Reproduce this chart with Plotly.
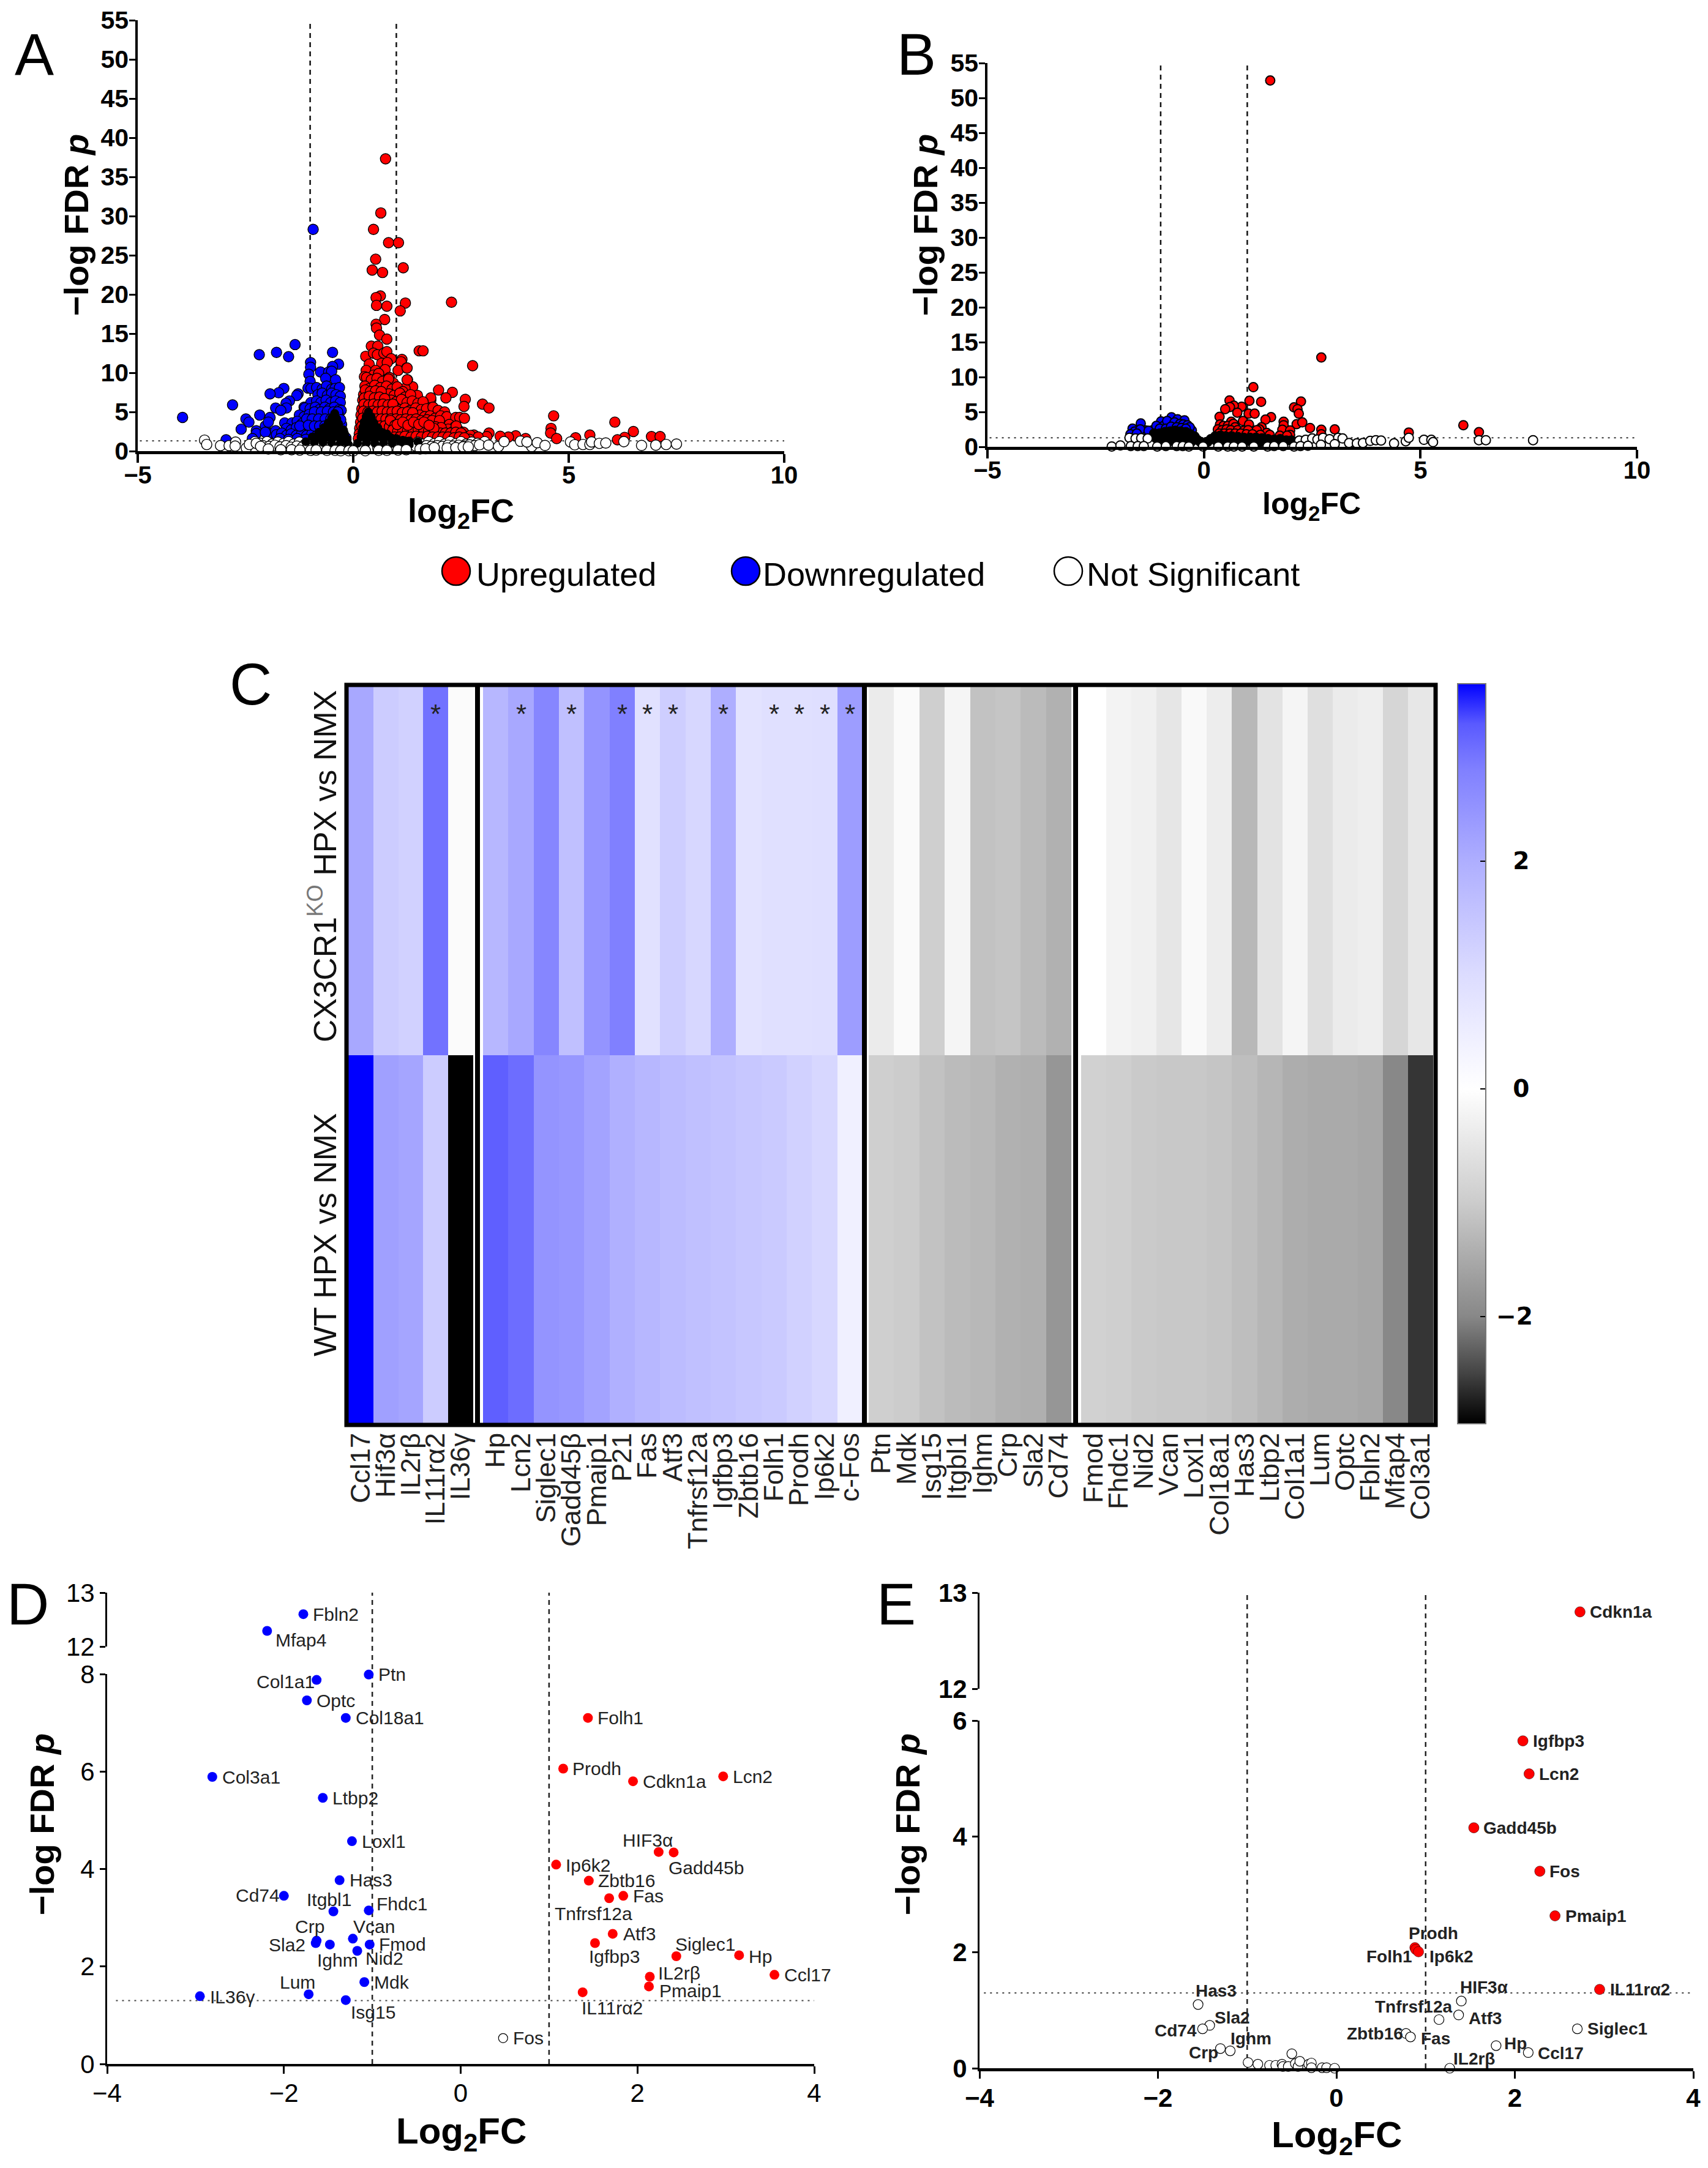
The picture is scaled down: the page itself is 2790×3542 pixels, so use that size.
"""
Volcano plots and heatmap panel (A-E) rebuilt with Plotly.
Values are read off the published figure.
"""
import plotly.graph_objects as go

W, H = 2790, 3542
FONT = "Liberation Sans"
BODY_MARGIN = 8  # the html page keeps the browser's default body margin

# ---- panel A, log2FC / -log FDR p pairs ----
a_up_top = [
    (.75, 37.3), (.64, 30.4), (.47, 28.3), (.82, 26.6), (1.05, 26.6), (.52, 24.5), (.44, 23.1), (.68, 22.8),
    (1.16, 23.4), (.63, 19.8), (.53, 19.6), (1.21, 18.9), (2.28, 19.0), (.54, 18.6), (.78, 18.5), (1.09, 17.9),
    (.73, 16.8), (.53, 16.2), (.54, 15.7), (.61, 14.8), (.78, 14.3), (1.53, 12.8), (1.62, 12.8), (2.77, 10.9),
    (1.13, 11.7), (1.11, 11.4), (1.24, 10.6), (1.04, 10.3), (1.26, 9.1), (1.38, 8.2), (1.98, 7.8), (2.3, 7.5),
    (1.48, 7.1), (2.15, 6.8), (1.8, 6.5), (2.6, 6.6), (2.57, 5.7), (3.0, 6.0), (3.15, 5.5), (4.65, 4.5),
    (6.07, 3.7), (4.59, 2.9), (4.58, 2.3), (4.72, 1.6), (6.5, 2.5), (6.3, 1.75), (6.13, 1.45), (6.92, 1.85),
    (7.12, 1.85), (5.49, 2.05), (5.16, 1.7), (3.77, 1.95), (3.6, 1.8), (3.41, 1.9), (3.15, 2.3), (3.1, 1.85),
    (2.8, 2.05), (4.0, 1.6), (.42, 13.4), (.57, 13.4), (.29, 12.1), (.47, 12.5), (.56, 12.3), (.71, 12.5),
    (.78, 12.7), (.88, 11.8), (.66, 11.2), (.79, 11.3), (.37, 11.1), (.3, 10.3), (.26, 9.5), (.74, 10.4),
    (.52, 10.3), (.47, 9.7), (.59, 9.9), (.73, 9.0), (.84, 9.4), (.93, 8.7), (1.04, 8.0), (1.2, 8.0),
    (1.25, 9.1), (1.49, 7.1), (1.8, 6.8), (1.25, 10.6),
]
a_up_cloud = [
    (.31, 9.4), (.42, 9.1), (.55, 9.3), (.68, 8.9), (.82, 9.2),
    (.27, 8.3), (.38, 8.0), (.5, 8.4), (.63, 8.1), (.77, 8.3), (.9, 7.9), (1.02, 8.2), (1.15, 7.6),
    (.24, 7.2), (.34, 7.5), (.46, 7.1), (.58, 7.4), (.7, 7.0), (.83, 7.3), (.95, 7.1), (1.08, 7.4), (1.2, 6.9), (1.33, 7.2),
    (.22, 6.5), (.31, 6.2), (.42, 6.6), (.53, 6.3), (.65, 6.5), (.76, 6.2), (.88, 6.5), (1.0, 6.3), (1.12, 6.6),
    (1.25, 6.2), (1.37, 6.4), (1.5, 6.1), (1.62, 6.3),
    (.2, 5.4), (.3, 5.7), (.4, 5.3), (.51, 5.6), (.62, 5.4), (.74, 5.6), (.85, 5.3), (.97, 5.6), (1.09, 5.3),
    (1.2, 5.5), (1.32, 5.2), (1.45, 5.5), (1.58, 5.3), (1.7, 5.4), (1.85, 5.6), (1.97, 5.2), (2.12, 5.0),
    (.18, 4.6), (.28, 4.4), (.38, 4.8), (.49, 4.5), (.6, 4.7), (.71, 4.4), (.82, 4.7), (.94, 4.5), (1.05, 4.7),
    (1.17, 4.4), (1.29, 4.6), (1.41, 4.3), (1.54, 4.6), (1.66, 4.4), (1.78, 4.5), (1.9, 4.2), (2.03, 4.5),
    (2.17, 4.4), (2.38, 4.3), (2.47, 4.3), (2.58, 4.2),
    (.17, 3.7), (.26, 3.4), (.35, 3.8), (.46, 3.5), (.56, 3.7), (.67, 3.4), (.78, 3.7), (.9, 3.5), (1.01, 3.7),
    (1.13, 3.4), (1.25, 3.6), (1.37, 3.4), (1.49, 3.7), (1.61, 3.4), (1.73, 3.6), (1.85, 3.3), (1.97, 3.5),
    (2.1, 3.2), (2.23, 3.4), (2.36, 3.1),
    (.15, 2.9), (.25, 2.6), (.34, 3.0), (.44, 2.7), (.55, 2.9), (.66, 2.6), (.77, 2.9), (.88, 2.6), (1.0, 2.9),
    (1.12, 2.7), (1.24, 2.9), (1.36, 2.6), (1.48, 2.9), (1.6, 2.6), (1.72, 2.8), (1.84, 2.6), (1.96, 2.8),
    (2.08, 2.5), (2.2, 2.8), (2.32, 2.5), (2.44, 2.7), (2.56, 2.4), (2.39, 3.2),
    (.14, 2.2), (.24, 2.0), (.35, 2.3), (.46, 2.0), (.57, 2.2), (.68, 2.0), (.8, 2.3), (.92, 2.0), (1.04, 2.2),
    (1.16, 2.0), (1.28, 2.2), (1.4, 2.0), (1.52, 2.2), (1.64, 2.0), (1.76, 2.2), (1.88, 1.9), (2.0, 2.1),
    (2.12, 1.9), (2.24, 2.1), (2.36, 1.9), (2.48, 2.1), (2.6, 1.9), (2.72, 2.0), (2.9, 1.8),
    (.12, 1.6), (.3, 1.5), (.5, 1.6), (.7, 1.5), (.9, 1.6), (1.1, 1.5), (1.3, 1.6), (1.5, 1.5), (1.7, 1.6),
    (1.9, 1.5), (2.1, 1.6), (2.3, 1.5), (2.5, 1.6), (2.7, 1.5),
    (.28, 7.8), (.4, 7.6), (.52, 7.7), (.65, 7.6), (.26, 6.8), (.37, 7.0), (.49, 6.8), (.61, 6.9), (.73, 6.7),
    (.25, 6.0), (.36, 5.9), (.47, 6.0), (.58, 5.9), (.69, 6.0), (.81, 5.9), (.92, 6.0), (.24, 5.1), (.34, 5.0),
    (.45, 5.1), (.56, 5.0), (.67, 5.1), (.79, 5.0), (.9, 5.0), (1.02, 5.1), (1.14, 4.9), (1.26, 5.0), (1.38, 4.9),
    (.22, 4.2), (.33, 4.1), (.43, 4.2), (.54, 4.1), (.65, 4.1), (.76, 4.1), (.87, 4.1), (.99, 4.1), (1.1, 4.0),
    (1.22, 4.1), (1.34, 4.0), (1.46, 4.1), (1.58, 3.9), (1.71, 4.0), (1.83, 3.9), (2.0, 3.9),
    (.2, 3.2), (.3, 3.2), (.41, 3.2), (.51, 3.2), (.62, 3.2), (.73, 3.2), (.84, 3.1), (.95, 3.2), (1.07, 3.1),
    (1.19, 3.2), (1.31, 3.1), (1.43, 3.2), (1.55, 3.0), (1.67, 3.1), (1.79, 3.0), (1.91, 3.1), (2.04, 3.0),
    (.86, 3.9), (.97, 3.3), (1.08, 2.4), (1.18, 3.0), (1.3, 2.4), (1.42, 2.4), (1.54, 2.4), (1.66, 2.3), (1.78, 2.4),
    (1.9, 2.4), (2.02, 2.3), (2.14, 2.3), (2.26, 2.3), (2.38, 2.4), (2.5, 2.3), (.92, 2.7), (1.03, 2.5), (1.15, 2.5),
    (1.26, 2.6), (1.39, 2.8), (1.51, 2.7), (1.63, 2.9), (1.75, 2.6), (1.87, 2.9), (.96, 1.8), (1.08, 1.8), (1.2, 1.9),
    (1.34, 1.8), (1.46, 1.9), (1.58, 1.8), (1.72, 1.9), (1.84, 1.8), (1.96, 1.8), (2.08, 1.8), (2.2, 1.8), (2.34, 1.7),
    (2.46, 1.8), (2.58, 1.7), (1.02, 3.4), (1.15, 3.7), (1.27, 3.3), (1.4, 3.7), (1.52, 3.4), (1.64, 3.7), (1.76, 3.3),
]
a_down_top = [
    (-3.96, 4.3), (-2.8, 5.9), (-2.18, 12.3), (-1.78, 12.6), (-1.5, 12.05), (-1.35, 13.6), (-.48, 12.6), (-.93, 28.3),
    (-.99, 11.3), (-.99, 10.7), (-.34, 11.1), (-.48, 10.8), (-1.03, 9.8), (-.76, 10.1), (-.57, 10.1), (-.5, 10.2),
    (-.64, 9.3), (-.41, 9.1), (-1.0, 8.9), (-1.05, 8.05), (-.98, 8.0), (-1.61, 8.0), (-1.73, 7.45), (-1.93, 7.3),
    (-1.28, 7.3), (-1.31, 7.1), (-1.48, 6.4), (-1.56, 6.1), (-1.8, 5.5), (-1.55, 5.5), (-1.68, 5.2), (-2.17, 4.6),
    (-1.93, 4.3), (-2.49, 4.1), (-2.42, 3.7), (-2.6, 2.8), (-2.04, 3.2), (-1.97, 3.7), (-2.25, 2.6), (-2.25, 2.25),
    (-2.34, 1.6), (-2.95, 1.45), (-1.14, 5.6), (-.99, 6.1), (-1.59, 3.6), (-1.89, 2.3), (-2.04, 2.4), (-1.8, 2.6),
]
a_down_cloud = [
    (-.85, 8.1), (-.72, 7.9), (-.62, 8.3), (-.5, 7.9), (-.42, 8.0), (-.32, 8.1),
    (-.82, 7.2), (-.72, 7.4), (-.6, 7.1), (-.5, 7.4), (-.4, 7.2), (-.3, 7.0),
    (-.98, 6.2), (-.85, 6.4), (-.75, 6.2), (-.63, 6.5), (-.52, 6.2), (-.41, 6.4), (-.3, 6.2),
    (-1.12, 5.5), (-1.0, 5.4), (-.88, 5.6), (-.78, 5.3), (-.66, 5.6), (-.55, 5.4), (-.44, 5.6), (-.32, 5.3), (-.28, 5.2),
    (-1.25, 4.6), (-1.14, 4.4), (-1.02, 4.7), (-.9, 4.4), (-.8, 4.7), (-.68, 4.5), (-.57, 4.7), (-.45, 4.4), (-.34, 4.6),
    (-1.42, 3.6), (-1.3, 3.8), (-1.19, 3.5), (-1.07, 3.8), (-.96, 3.5), (-.84, 3.8), (-.72, 3.6), (-.6, 3.7),
    (-.48, 3.5), (-.36, 3.6), (-.27, 3.4),
    (-1.55, 2.9), (-1.44, 2.7), (-1.32, 3.0), (-1.2, 2.7), (-1.1, 3.0), (-.98, 2.8), (-.86, 3.0), (-.74, 2.7),
    (-.62, 2.9), (-.5, 2.7), (-.38, 2.9), (-.25, 2.6),
    (-1.78, 2.1), (-1.66, 2.3), (-1.55, 2.0), (-1.44, 2.2), (-1.32, 2.0), (-1.2, 2.2), (-1.08, 2.0), (-.96, 2.2),
    (-.84, 2.0), (-.72, 2.1), (-.6, 2.0), (-.48, 2.1), (-.36, 2.0), (-.24, 2.0), (-.17, 1.7),
    (-1.7, 1.6), (-1.5, 1.5), (-1.3, 1.6), (-1.1, 1.5), (-.9, 1.6), (-.7, 1.5), (-.5, 1.6), (-.3, 1.5),
    (-.9, 5.0), (-.74, 5.0), (-.6, 5.1), (-.46, 5.0), (-.36, 5.0), (-1.08, 4.1), (-.95, 4.1), (-.8, 4.1), (-.65, 4.1),
    (-.52, 4.1), (-.4, 4.0), (-.29, 4.0), (-1.24, 3.2), (-1.04, 3.3), (-.9, 3.2), (-.78, 3.2), (-.66, 3.2), (-.54, 3.2),
]
a_core = [
    (.35, 5.0), (.3, 4.4), (.42, 4.3), (.25, 3.7), (.36, 3.7), (.48, 3.6), (.22, 3.0), (.33, 3.0), (.45, 3.0),
    (.57, 3.0), (.2, 2.4), (.3, 2.3), (.42, 2.4), (.54, 2.3), (.66, 2.4), (.78, 2.2), (.18, 1.8), (.28, 1.8),
    (.4, 1.8), (.52, 1.8), (.64, 1.8), (.76, 1.8), (.88, 1.7), (1.0, 1.6), (1.15, 1.4), (1.3, 1.3), (1.5, 1.2),
    (-.43, 4.8), (-.5, 4.2), (-.38, 4.1), (-.58, 3.6), (-.46, 3.5), (-.34, 3.5), (-.68, 3.0), (-.56, 2.9),
    (-.44, 2.9), (-.32, 2.9), (-.24, 2.7), (-.8, 2.4), (-.68, 2.4), (-.56, 2.3), (-.44, 2.3), (-.32, 2.3),
    (-.2, 2.2), (-.95, 1.8), (-.82, 1.8), (-.7, 1.8), (-.58, 1.8), (-.46, 1.8), (-.34, 1.8), (-.22, 1.7), (-.14, 1.5),
    (-1.1, 1.2), (-.9, 1.1), (-.7, 1.1), (-.5, 1.0), (-.3, 1.0), (-.12, .9), (.1, 1.0), (.3, 1.0), (.5, 1.0),
    (.7, 1.0), (.9, 1.0), (1.1, .9), (1.3, .8),
]
a_ns_band = [
    (-2.28, 1.2), (-2.15, 1.0), (-2.0, 1.2), (-1.88, .9), (-1.75, 1.15), (-1.62, .95), (-1.5, 1.2), (-1.38, .9),
    (-1.25, 1.15), (-1.12, .85), (-1.0, 1.1), (-.88, .8), (-.75, 1.05), (-.62, .75), (-.5, 1.0), (-.38, .7),
    (-.25, .8), (-.12, .6), (.12, .6), (.25, .8), (.38, .7), (.5, .9), (.62, .7), (.75, 1.0), (.88, .75), (1.0, 1.05),
    (1.12, .8), (1.25, 1.1), (1.38, .85), (1.5, 1.15), (1.62, .9), (1.75, 1.2), (1.88, .95), (2.0, 1.2), (2.12, .9),
    (2.25, 1.2), (2.38, .95), (2.5, 1.2), (2.62, .9), (2.75, 1.15), (2.88, 1.0), (3.05, 1.2),
    (-2.1, .7), (-1.95, .6), (-1.82, .75), (-1.7, .55), (-1.56, .7), (-1.44, .5), (-1.31, .65), (-1.18, .5),
    (-1.05, .6), (-.93, .45), (-.8, .55), (-.68, .4), (-.56, .5), (-.44, .4), (-.31, .4), (-.18, .35), (.18, .35),
    (.31, .4), (.44, .45), (.57, .4), (.7, .5), (.82, .4), (.95, .55), (1.08, .45), (1.2, .6), (1.33, .5), (1.45, .65),
    (1.57, .55), (1.7, .7), (1.82, .6), (1.95, .7), (2.07, .6), (2.2, .75), (2.32, .65), (2.45, .75), (2.57, .65),
    (2.7, .8), (2.82, .7),
]
a_ns_base = [
    (-3.45, 1.4), (-3.4, .85), (-3.08, .7), (-2.88, .7), (-2.73, 1.15), (-2.74, .65), (-2.48, .4), (-2.41, .85),
    (-2.25, 1.0), (-2.15, .6), (-1.97, .27), (-1.68, .18), (-1.43, .18), (-1.24, .13), (-.99, .09), (-.86, .13),
    (-.61, .09), (-.42, .09), (-.29, .05), (-.1, .05), (0, .03), (.28, .05), (.59, .09), (.78, .09), (1.04, .13),
    (1.23, .18), (1.55, .27), (1.68, .31), (1.88, .45), (2.18, .4), (2.38, .45), (2.55, .54), (2.67, .54), (2.93, .81),
    (3.14, .76), (3.37, .58), (3.5, 1.21), (3.88, 1.26), (4.14, .58), (4.03, 1.17), (4.27, 1.08), (4.45, .72),
    (5.04, 1.17), (5.14, .81), (5.33, .85), (5.49, .85), (5.53, 1.17), (5.71, .99), (5.86, 1.03), (6.28, 1.21),
    (6.69, .72), (7.02, .76), (7.26, .85), (7.5, .9),
]

# ---- panel B ----
b_up = [
    (1.53, 52.5), (2.71, 12.8), (1.14, 8.55), (.59, 6.65), (1.05, 6.6), (1.32, 6.45), (2.24, 6.5), (2.08, 5.65),
    (2.16, 5.4), (2.19, 4.75), (.87, 5.75), (.69, 5.9), (.6, 5.7), (.49, 5.4), (.77, 4.9), (1.03, 4.75), (1.17, 4.75),
    (.36, 4.3), (1.55, 4.25), (1.42, 3.9), (.9, 3.7), (1.04, 3.2), (.63, 3.6), (1.84, 3.6), (1.84, 3.1), (2.14, 3.25),
    (2.27, 3.5), (2.45, 2.7), (2.71, 2.45), (3.02, 2.5), (1.81, 2.45), (1.99, 2.35), (1.99, 1.7), (2.71, 1.8),
    (4.73, 2.05), (5.99, 3.1), (6.35, 2.1), (1.33, 2.8), (1.28, 2.5), (1.17, 2.3), (1.45, 2.0), (1.22, 2.4),
    (.37, 3.2), (.45, 3.0), (.55, 3.0), (.68, 3.3), (.72, 2.8), (.32, 2.5), (.42, 2.4), (.52, 2.5), (.62, 2.4),
    (.78, 2.4), (.92, 2.3), (1.02, 2.4), (.35, 1.9), (.47, 1.9), (.6, 1.9), (.72, 1.9), (.85, 1.9), (.98, 1.8),
    (1.12, 1.8), (1.3, 1.7), (1.52, 1.7), (1.75, 1.6), (1.92, 1.6),
]
b_down = [
    (-1.46, 3.36), (-1.65, 2.6), (-1.35, 2.35), (-1.18, 2.4), (-.99, 3.65), (-.75, 4.24), (-.61, 3.95), (-.45, 3.8),
    (-.28, 2.35), (-1.6, 2.2), (-1.47, 2.5), (-1.28, 2.3), (-1.1, 3.0), (-.93, 3.0), (-.85, 3.7), (-.68, 3.5),
    (-.55, 3.3), (-.48, 3.2), (-.38, 3.1), (-.33, 2.8), (-1.02, 2.6), (-.88, 2.6), (-.76, 2.9), (-.63, 2.8),
    (-.52, 2.7), (-.42, 2.6), (-1.7, 1.8), (-1.55, 1.9),
]
b_core = [
    (-1.15, 1.9), (-1.02, 1.9), (-.9, 2.1), (-.78, 2.2), (-.66, 2.3), (-.54, 2.2), (-.42, 2.1), (-.32, 1.8), (-.22, 1.5),
    (-1.1, 1.2), (-.96, 1.3), (-.82, 1.4), (-.68, 1.5), (-.54, 1.5), (-.4, 1.3), (-.28, 1.2), (-.16, 1.0), (-.08, .7),
    (-.9, .8), (-.7, .8), (-.5, .8), (-.3, .7), (.08, .7), (.16, 1.1), (.26, 1.5), (.38, 1.6), (.5, 1.5), (.64, 1.5),
    (.78, 1.4), (.92, 1.3), (1.06, 1.3), (1.2, 1.3), (1.34, 1.2), (1.48, 1.1), (1.62, 1.0), (1.76, 1.1), (1.9, .9),
    (2.02, .9), (.3, .8), (.5, .8), (.7, .8), (.9, .7), (1.1, .7), (1.3, .7), (1.5, .6),
]
b_ns = [
    (-1.72, 1.3), (-1.58, 1.2), (-1.45, 1.25), (-1.3, 1.2), (2.2, .9), (2.35, 1.0), (2.5, 1.2), (2.62, 1.05),
    (2.75, 1.3), (2.9, 1.1), (3.1, 1.3), (3.2, 1.2), (-2.13, .05), (-1.93, .2), (-1.69, .1), (-1.53, .1), (-1.39, .1),
    (-1.08, .05), (-.88, .1), (-.63, .1), (-.49, .1), (-.35, .05), (-.02, .05), (.33, .05), (.55, .05), (.69, .05),
    (.88, .05), (1.15, .05), (1.47, .05), (1.62, .1), (1.83, .1), (2.08, .05), (2.23, .1), (2.4, .15), (2.7, .3),
    (3.02, .4), (3.35, .55), (3.53, .5), (3.67, .55), (3.84, .85), (3.97, .95), (4.09, .9), (4.39, .5), (4.66, .8),
    (4.73, 1.3), (5.08, 1.0), (5.25, 1.0), (5.29, .67), (6.35, .95), (6.51, .95), (7.6, .95),
]

# ---- panel C ----
genes_1 = ["Ccl17", "Hif3α", "IL2rβ", "IL11rα2", "IL36γ"]
genes_2 = ["Hp", "Lcn2", "Siglec1", "Gadd45β", "Pmaip1", "P21", "Fas", "Atf3", "Tnfrsf12a", "Igfbp3", "Zbtb16",
           "Folh1", "Prodh", "Ip6k2", "c-Fos"]
genes_3 = ["Ptn", "Mdk", "Isg15", "Itgbl1", "Ighm", "Crp", "Sla2", "Cd74"]
genes_4 = ["Fmod", "Fhdc1", "Nid2", "Vcan", "Loxl1", "Col18a1", "Has3", "Ltbp2", "Col1a1", "Lum", "Optc", "Fbln2",
           "Mfap4", "Col3a1"]
row_labels = ['WT HPX vs NMX', 'CX3CR1<sup><span style="color:#777">KO</span></sup> HPX vs NMX']
ko_1 = [2.1, 1.35, 1.25, 2.95, -.08]
wt_1 = [3.56, 2.25, 2.15, 1.35, -2.94]
ko_2 = [1.8, 2.1, 2.7, 1.6, 2.45, 2.8, .85, 1.3, 1.1, 2.0, .8, .9, .9, .92, 2.3]
wt_2 = [3.15, 3.0, 2.45, 2.4, 2.2, 1.95, 1.8, 1.7, 1.6, 1.55, 1.45, 1.4, 1.25, 1.1, .43]
ko_3 = [-.4, -.1, -.95, -.2, -1.15, -1.1, -1.25, -1.4]
wt_3 = [-.95, -1.0, -1.15, -1.25, -1.3, -1.4, -1.42, -1.8]
ko_4 = [0, -.24, -.3, -.5, -.12, -.35, -1.3, -.55, -.2, -.62, -.4, -.33, -.8, -.48]
wt_4 = [-.9, -.95, -1.03, -1.06, -1.06, -1.1, -1.2, -1.33, -1.45, -1.5, -1.5, -1.55, -2.0, -2.6]
starred = ["IL11rα2", "Lcn2", "Gadd45β", "P21", "Fas", "Atf3", "Igfbp3", "Folh1", "Prodh", "Ip6k2", "c-Fos"]
cbar_stops = [(-2.94, "#000000"), (-2.5, "#444444"), (-2, "#888888"), (-1, "#cccccc"), (0, "#ffffff"),
              (1, "#dcdcff"), (2, "#aeaeff"), (2.8, "#8080ff"), (3.2, "#5a5aff"), (3.56, "#0000ff")]

# ---- panel D ----
d_low_names = ["Ptn", "Col1a1", "Optc", "Col18a1", "Col3a1", "Ltbp2", "Loxl1", "Has3", "Cd74",
               "Itgbl1", "Fhdc1", "Crp", "Sla2", "Vcan", "Fmod", "Ighm", "Nid2", "Lum", "Mdk", "IL36γ", "Isg15"]
d_low_x = [-1.04, -1.63, -1.74, -1.30, -2.81, -1.56, -1.23, -1.37, -2.0,
           -1.44, -1.04, -1.63, -1.64, -1.22, -1.03, -1.48, -1.17, -1.72, -1.09, -2.95, -1.30]
d_low_y = [7.99, 7.88, 7.46, 7.10, 5.89, 5.46, 4.57, 3.77, 3.45,
           3.13, 3.15, 2.53, 2.48, 2.57, 2.45, 2.45, 2.32, 1.43, 1.68, 1.39, 1.31]
d_high_names = ["Fbln2", "Mfap4"]
d_high_x = [-1.78, -2.19]
d_high_y = [12.6, 12.29]
d_up_names = ["Folh1", "Prodh", "Cdkn1a", "Lcn2", "HIF3α", "Gadd45b", "Ip6k2", "Zbtb16", "Fas", "Tnfrsf12a", "Atf3",
              "Igfbp3", "Siglec1", "Hp", "IL2rβ", "Pmaip1", "Ccl17", "IL11rα2"]
d_up_x = [1.44, 1.16, 1.95, 2.97, 2.24, 2.41, 1.08, 1.45, 1.84, 1.68, 1.72, 1.52, 2.44, 3.15, 2.14, 2.13, 3.55, 1.38]
d_up_y = [7.10, 6.06, 5.80, 5.90, 4.35, 4.34, 4.09, 3.76, 3.45, 3.40, 2.67, 2.48, 2.21, 2.23, 1.79, 1.59, 1.83, 1.47]
d_ns_names = ["Fos"]
d_ns_x = [.48]
d_ns_y = [.53]
# label offset from its point, pixels
d_offsets = {
    "Fbln2": (13, 0), "Mfap4": (12, -15), "Ptn": (14, 0), "Col1a1": (-100, -3), "Optc": (14, 0), "Col18a1": (14, 0),
    "Col3a1": (14, 0), "Ltbp2": (14, 0), "Loxl1": (14, 0), "Has3": (14, 0), "Cd74": (-81, 1), "Itgbl1": (-46, 19),
    "Fhdc1": (11, 11), "Crp": (-37, 23), "Sla2": (-79, -3), "Vcan": (-1, 20), "Fmod": (13, 0), "Ighm": (-23, -26),
    "Nid2": (11, -12), "Lum": (-49, 20), "Mdk": (14, 0), "IL36γ": (14, -1), "Isg15": (6, -20), "Fos": (14, 0),
    "Folh1": (14, 0), "Prodh": (13, 0), "Cdkn1a": (14, 0), "Lcn2": (14, 0), "HIF3α": (-61, 19), "Gadd45b": (-10, -25),
    "Ip6k2": (14, -1), "Zbtb16": (13, 0), "Fas": (14, 0), "Tnfrsf12a": (-91, -25), "Atf3": (15, 0), "Igfbp3": (-12, -22),
    "Siglec1": (-4, 20), "Hp": (14, -2), "IL2rβ": (12, 6), "Pmaip1": (15, -7), "Ccl17": (14, 0), "IL11rα2": (-4, -26),
}

# ---- panel E ----
e_high_names = ["Cdkn1a"]
e_high_x = [2.73]
e_high_y = [12.8]
e_up_names = ["Igfbp3", "Lcn2", "Gadd45b", "Fos", "Pmaip1", "Prodh", "Folh1", "Ip6k2", "IL11rα2"]
e_up_x = [2.09, 2.16, 1.54, 2.28, 2.45, .88, .89, .92, 2.95]
e_up_y = [5.65, 5.08, 4.15, 3.40, 2.63, 2.08, 2.05, 2.01, 1.36]
e_ns_names = ["Has3", "Sla2", "Cd74", "Ighm", "Crp", "HIF3α", "Atf3", "Tnfrsf12a", "Zbtb16", "Fas", "Siglec1", "Hp",
              "Ccl17", "IL2rβ"]
e_ns_x = [-1.55, -1.42, -1.50, -1.19, -1.30, 1.40, 1.37, 1.15, .78, .83, 2.70, 1.79, 2.15, 1.27]
e_ns_y = [1.10, .74, .68, .30, .34, 1.16, .92, .84, .60, .54, .68, .39, .27, 0]
e_rest_x = [-.99, -.88, -.75, -.68, -.61, -.6, -.54, -.5, -.46, -.43, -.41, -.31, -.28, -.28, -.16, -.11, -.02]
e_rest_y = [.10, .07, .05, .05, .07, .03, .03, .25, .08, .03, .12, .07, .09, .01, .01, .01, 0]
e_offsets = {
    "Cdkn1a": (14, 0), "Igfbp3": (14, 0), "Lcn2": (14, 0), "Gadd45b": (14, 0), "Fos": (14, 0), "Pmaip1": (15, 0),
    "Prodh": (-12, 24), "Folh1": (-83, -12), "Ip6k2": (16, -8), "IL11rα2": (15, 0), "Has3": (-6, 22), "Sla2": (6, 12),
    "Cd74": (-80, -3), "Ighm": (-2, 20), "Crp": (-54, -7), "HIF3α": (-4, 23), "Atf3": (14, -6), "Tnfrsf12a": (-107, 21),
    "Zbtb16": (-99, 0), "Fas": (15, -3), "Siglec1": (14, 0), "Hp": (11, 4), "Ccl17": (14, -1), "IL2rβ": (4, 16),
}

legend_items = [("Upregulated", "#ff0000", 745, 776), ("Downregulated", "#0000ff", 1218, 1244),
                ("Not Significant", "#ffffff", 1745, 1773)]


def px(x):
    return (x - BODY_MARGIN) / W


def py(y):
    return 1 - (y - BODY_MARGIN) / H


def split(pairs):
    return [p[0] for p in pairs], [p[1] for p in pairs]


def dots(x, y, color, size, xaxis, yaxis, line=1.4, name=None):
    return go.Scatter(x=x, y=y, mode="markers", name=name, showlegend=False, cliponaxis=False,
                      marker=dict(color=color, size=size, line=dict(color="black", width=line)),
                      xaxis=xaxis, yaxis=yaxis)


def axis(domain, ticksize=40, weight="bold", **kw):
    return dict(domain=domain, showgrid=False, zeroline=False, showline=True, linecolor="black",
                ticks="outside", tickcolor="black",
                tickfont=dict(family=FONT, size=ticksize, color="black", weight=weight), **kw)


fig = go.Figure()

# panel A
for pts, col, size, name in [(a_up_top, "#ff0000", 17, "Upregulated"), (a_up_cloud, "#ff0000", 17, "Upregulated"),
                             (a_down_top, "#0000ff", 17, "Downregulated"), (a_down_cloud, "#0000ff", 17, "Downregulated"),
                             (a_ns_band, "#ffffff", 17, "Not Significant"), (a_core, "#000000", 13, "Not Significant"),
                             (a_ns_base, "#ffffff", 17, "Not Significant")]:
    xs, ys = split(pts)
    fig.add_trace(dots(xs, ys, col, size, "x", "y", name=name))

# panel B
for pts, col, name in [(b_up, "#ff0000", "Upregulated"), (b_down, "#0000ff", "Downregulated"),
                       (b_core, "#000000", "Not Significant"), (b_ns, "#ffffff", "Not Significant")]:
    xs, ys = split(pts)
    fig.add_trace(dots(xs, ys, col, 15, "x2", "y2", line=2, name=name))

# panel C, one heatmap per gene block
for genes, ko, wt, xa in [(genes_1, ko_1, wt_1, "x3"), (genes_2, ko_2, wt_2, "x4"),
                          (genes_3, ko_3, wt_3, "x5"), (genes_4, ko_4, wt_4, "x6")]:
    fig.add_trace(go.Heatmap(x=genes, y=row_labels, z=[wt, ko], coloraxis="coloraxis", xaxis=xa, yaxis="y3"))

# panel D, lower and upper part of the broken axis
fig.add_trace(dots(d_low_x, d_low_y, "#0000ff", 16, "x7", "y7", line=0))
fig.add_trace(dots(d_high_x, d_high_y, "#0000ff", 16, "x7", "y8", line=0))
fig.add_trace(dots(d_up_x, d_up_y, "#ff0000", 16, "x7", "y7", line=0))
fig.add_trace(dots(d_ns_x, d_ns_y, "#ffffff", 15, "x7", "y7", line=1.2))

# panel E
fig.add_trace(dots(e_up_x, e_up_y, "#ff0000", 17, "x8", "y9", line=0.5))
fig.add_trace(dots(e_high_x, e_high_y, "#ff0000", 17, "x8", "y10", line=0.5))
fig.add_trace(dots(e_ns_x, e_ns_y, "#ffffff", 16, "x8", "y9", line=1.2))
fig.add_trace(dots(e_rest_x, e_rest_y, "#ffffff", 16, "x8", "y9", line=1.2))


def gene_axis(left, right, genes):
    return dict(domain=[px(left), px(right)], showgrid=False, zeroline=False, showline=False, ticks="", anchor="y3",
                tickmode="array", tickvals=genes, ticktext=genes, tickangle=-90, ticklabelstandoff=5,
                tickfont=dict(family=FONT, size=45, color="#222222"))


span = 3.56 + 2.94

fig.update_layout(
    width=W, height=H, margin=dict(l=0, r=0, t=0, b=0, autoexpand=False), paper_bgcolor="white", plot_bgcolor="white",
    showlegend=False, font=dict(family=FONT, color="black"),
    xaxis=axis([px(225), px(1281)], range=[-5, 10], tickvals=[-5, 0, 5, 10], anchor="y",
               linewidth=5, ticklen=14, tickwidth=4, ticklabelstandoff=-14),
    yaxis=axis([py(737), py(33)], ticksize=41, range=[0, 55], dtick=5, anchor="x",
               linewidth=3.5, ticklen=10, tickwidth=3, ticklabelstandoff=-7),
    xaxis2=axis([px(1613), px(2674)], range=[-5, 10], tickvals=[-5, 0, 5, 10], anchor="y2",
                linewidth=5, ticklen=14, tickwidth=4, ticklabelstandoff=-15),
    yaxis2=axis([py(730), py(103)], ticksize=41, range=[0, 55], dtick=5, anchor="x2",
                linewidth=3.5, ticklen=10, tickwidth=3, ticklabelstandoff=-7),
    xaxis3=gene_axis(569, 773, genes_1),
    xaxis4=gene_axis(789, 1409, genes_2),
    xaxis5=gene_axis(1419, 1750, genes_3),
    xaxis6=gene_axis(1766, 2341, genes_4),
    yaxis3=dict(domain=[py(2326), py(1122)], anchor="x3", showgrid=False, zeroline=False, ticks="", tickangle=-90,
                ticklabelstandoff=9, tickfont=dict(family=FONT, size=52, color="#111111")),
    coloraxis=dict(cmin=-2.94, cmax=3.56,
                   colorscale=[[(v + 2.94) / span, c] for v, c in cbar_stops],
                   colorbar=dict(x=px(2381), xanchor="left", y=py(1721), yanchor="middle", lenmode="pixels", len=1209,
                                 thicknessmode="pixels", thickness=46, outlinecolor="#777777", outlinewidth=2,
                                 tickvals=[-2, 0, 2], ticktext=["\u2009−2", "\u2009\u20070", "\u2009\u20072"],
                                 ticks="inside", ticklen=10, tickwidth=2, tickcolor="black", xpad=0, ypad=0,
                                 tickfont=dict(family="DejaVu Sans", size=39, color="black", weight="bold"))),
    xaxis7=axis([px(175), px(1330)], ticksize=42, weight="normal", range=[-4, 4], dtick=2,
                anchor="y7", linewidth=4, ticklen=12, tickwidth=3, ticklabelstandoff=-4),
    yaxis7=axis([py(3372), py(2735)], ticksize=42, weight="normal", range=[0, 8], dtick=2,
                anchor="x7", linewidth=3, ticklen=9, tickwidth=3),
    yaxis8=axis([py(2690), py(2602)], ticksize=42, weight="normal", range=[12, 13], dtick=1,
                anchor="x7", linewidth=3, ticklen=9, tickwidth=3),
    xaxis8=axis([px(1600), px(2766)], ticksize=42, range=[-4, 4], dtick=2,
                anchor="y9", linewidth=5, ticklen=12, tickwidth=3, ticklabelstandoff=-4),
    yaxis9=axis([py(3379), py(2811)], ticksize=42, range=[0, 6], dtick=2,
                anchor="x8", linewidth=3, ticklen=9, tickwidth=3),
    yaxis10=axis([py(2759), py(2602)], ticksize=42, range=[12, 13], dtick=1,
                 anchor="x8", linewidth=3, ticklen=9, tickwidth=3),
)

shapes = []
# threshold lines of the volcano plots
for xr, yr in [("x", "y"), ("x2", "y2")]:
    for v in (-1, 1):
        shapes.append(dict(type="line", xref=xr, yref=yr, x0=v, x1=v, y0=0, y1=55, layer="below",
                           line=dict(color="#111111", width=2.5, dash="8px,7px")))
    shapes.append(dict(type="line", xref=xr, yref=yr, x0=-4.95, x1=10, y0=1.3, y1=1.3, layer="below",
                       line=dict(color="#333333", width=2, dash="3px,7px")))
for xr, yr, bottom_px, x_lo in [("x7", "y7", 3372, -3.9), ("x8", "y9", 3379, -3.95)]:
    for v in (-1, 1):
        shapes.append(dict(type="line", xref=xr, yref="paper", x0=v, x1=v, y0=py(bottom_px), y1=py(2602),
                           layer="below", line=dict(color="#222222", width=2.5, dash="8px,7px")))
    shapes.append(dict(type="line", xref=xr, yref=yr, x0=x_lo, x1=4, y0=1.3, y1=1.3, layer="below",
                       line=dict(color="#444444", width=2, dash="3px,7px")))
# heatmap frame and block separators
shapes.append(dict(type="rect", xref="paper", yref="paper", x0=px(566), x1=px(2345), y0=py(2328), y1=py(1119),
                   line=dict(color="black", width=7)))
for sep in (780, 1412, 1757):
    shapes.append(dict(type="line", xref="paper", yref="paper", x0=px(sep), x1=px(sep), y0=py(2328), y1=py(1119),
                       line=dict(color="black", width=8)))
# legend keys
for _, col, cx, _tx in legend_items:
    shapes.append(dict(type="circle", xref="paper", yref="paper", x0=px(cx - 23), x1=px(cx + 23),
                       y0=py(933 + 23), y1=py(933 - 23), fillcolor=col, line=dict(color="black", width=2.5)))

annotations = []


def note(text, x, y, size, angle=0, xanchor="center", color="black"):
    annotations.append(dict(text=text, x=px(x), y=py(y), xref="paper", yref="paper", showarrow=False, textangle=angle,
                            xanchor=xanchor, yanchor="middle", font=dict(family=FONT, size=size, color=color)))


for letter, x, y in [("A", 56, 89), ("B", 1497, 89), ("C", 410, 1117), ("D", 45, 2620), ("E", 1464, 2620)]:
    note(letter, x, y, 96)
for x, y in [(124, 368), (1511, 368), (68, 2981), (1482, 2981)]:
    note("<b>−log FDR <i>p</i></b>", x, y, 56, angle=-90)
note("<b>log<sub>2</sub>FC</b>", 753, 838, 54)
note("<b>log<sub>2</sub>FC</b>", 2142, 826, 50)
note("<b>Log<sub>2</sub>FC</b>", 753, 3486, 60)
note("<b>Log<sub>2</sub>FC</b>", 2183, 3492, 60)
for label, _, _cx, tx in legend_items:
    note(label, tx, 938, 54, xanchor="left")

# significance marks on the top row of the heatmap
for gene in starred:
    xa = "x3" if gene in genes_1 else "x4"
    annotations.append(dict(text="*", x=gene, y=py(1140), xref=xa, yref="paper", showarrow=False,
                            font=dict(family=FONT, size=44, color="#222222")))


def gene_labels(names, xs, ys, offsets, xa, ya, size, weight):
    for n, x, y in zip(names, xs, ys):
        dx, dy = offsets[n]
        annotations.append(dict(text=n, x=x, y=y, xref=xa, yref=ya, showarrow=False,
                                xanchor="left", yanchor="middle", xshift=dx, yshift=dy,
                                font=dict(family=FONT, size=size, color="#222222", weight=weight)))


gene_labels(d_low_names, d_low_x, d_low_y, d_offsets, "x7", "y7", 30, "normal")
gene_labels(d_high_names, d_high_x, d_high_y, d_offsets, "x7", "y8", 30, "normal")
gene_labels(d_up_names, d_up_x, d_up_y, d_offsets, "x7", "y7", 30, "normal")
gene_labels(d_ns_names, d_ns_x, d_ns_y, d_offsets, "x7", "y7", 30, "normal")
gene_labels(e_high_names, e_high_x, e_high_y, e_offsets, "x8", "y10", 28, "bold")
gene_labels(e_up_names, e_up_x, e_up_y, e_offsets, "x8", "y9", 28, "bold")
gene_labels(e_ns_names, e_ns_x, e_ns_y, e_offsets, "x8", "y9", 28, "bold")

fig.update_layout(shapes=shapes, annotations=annotations)

fig.write_html("out.html")
